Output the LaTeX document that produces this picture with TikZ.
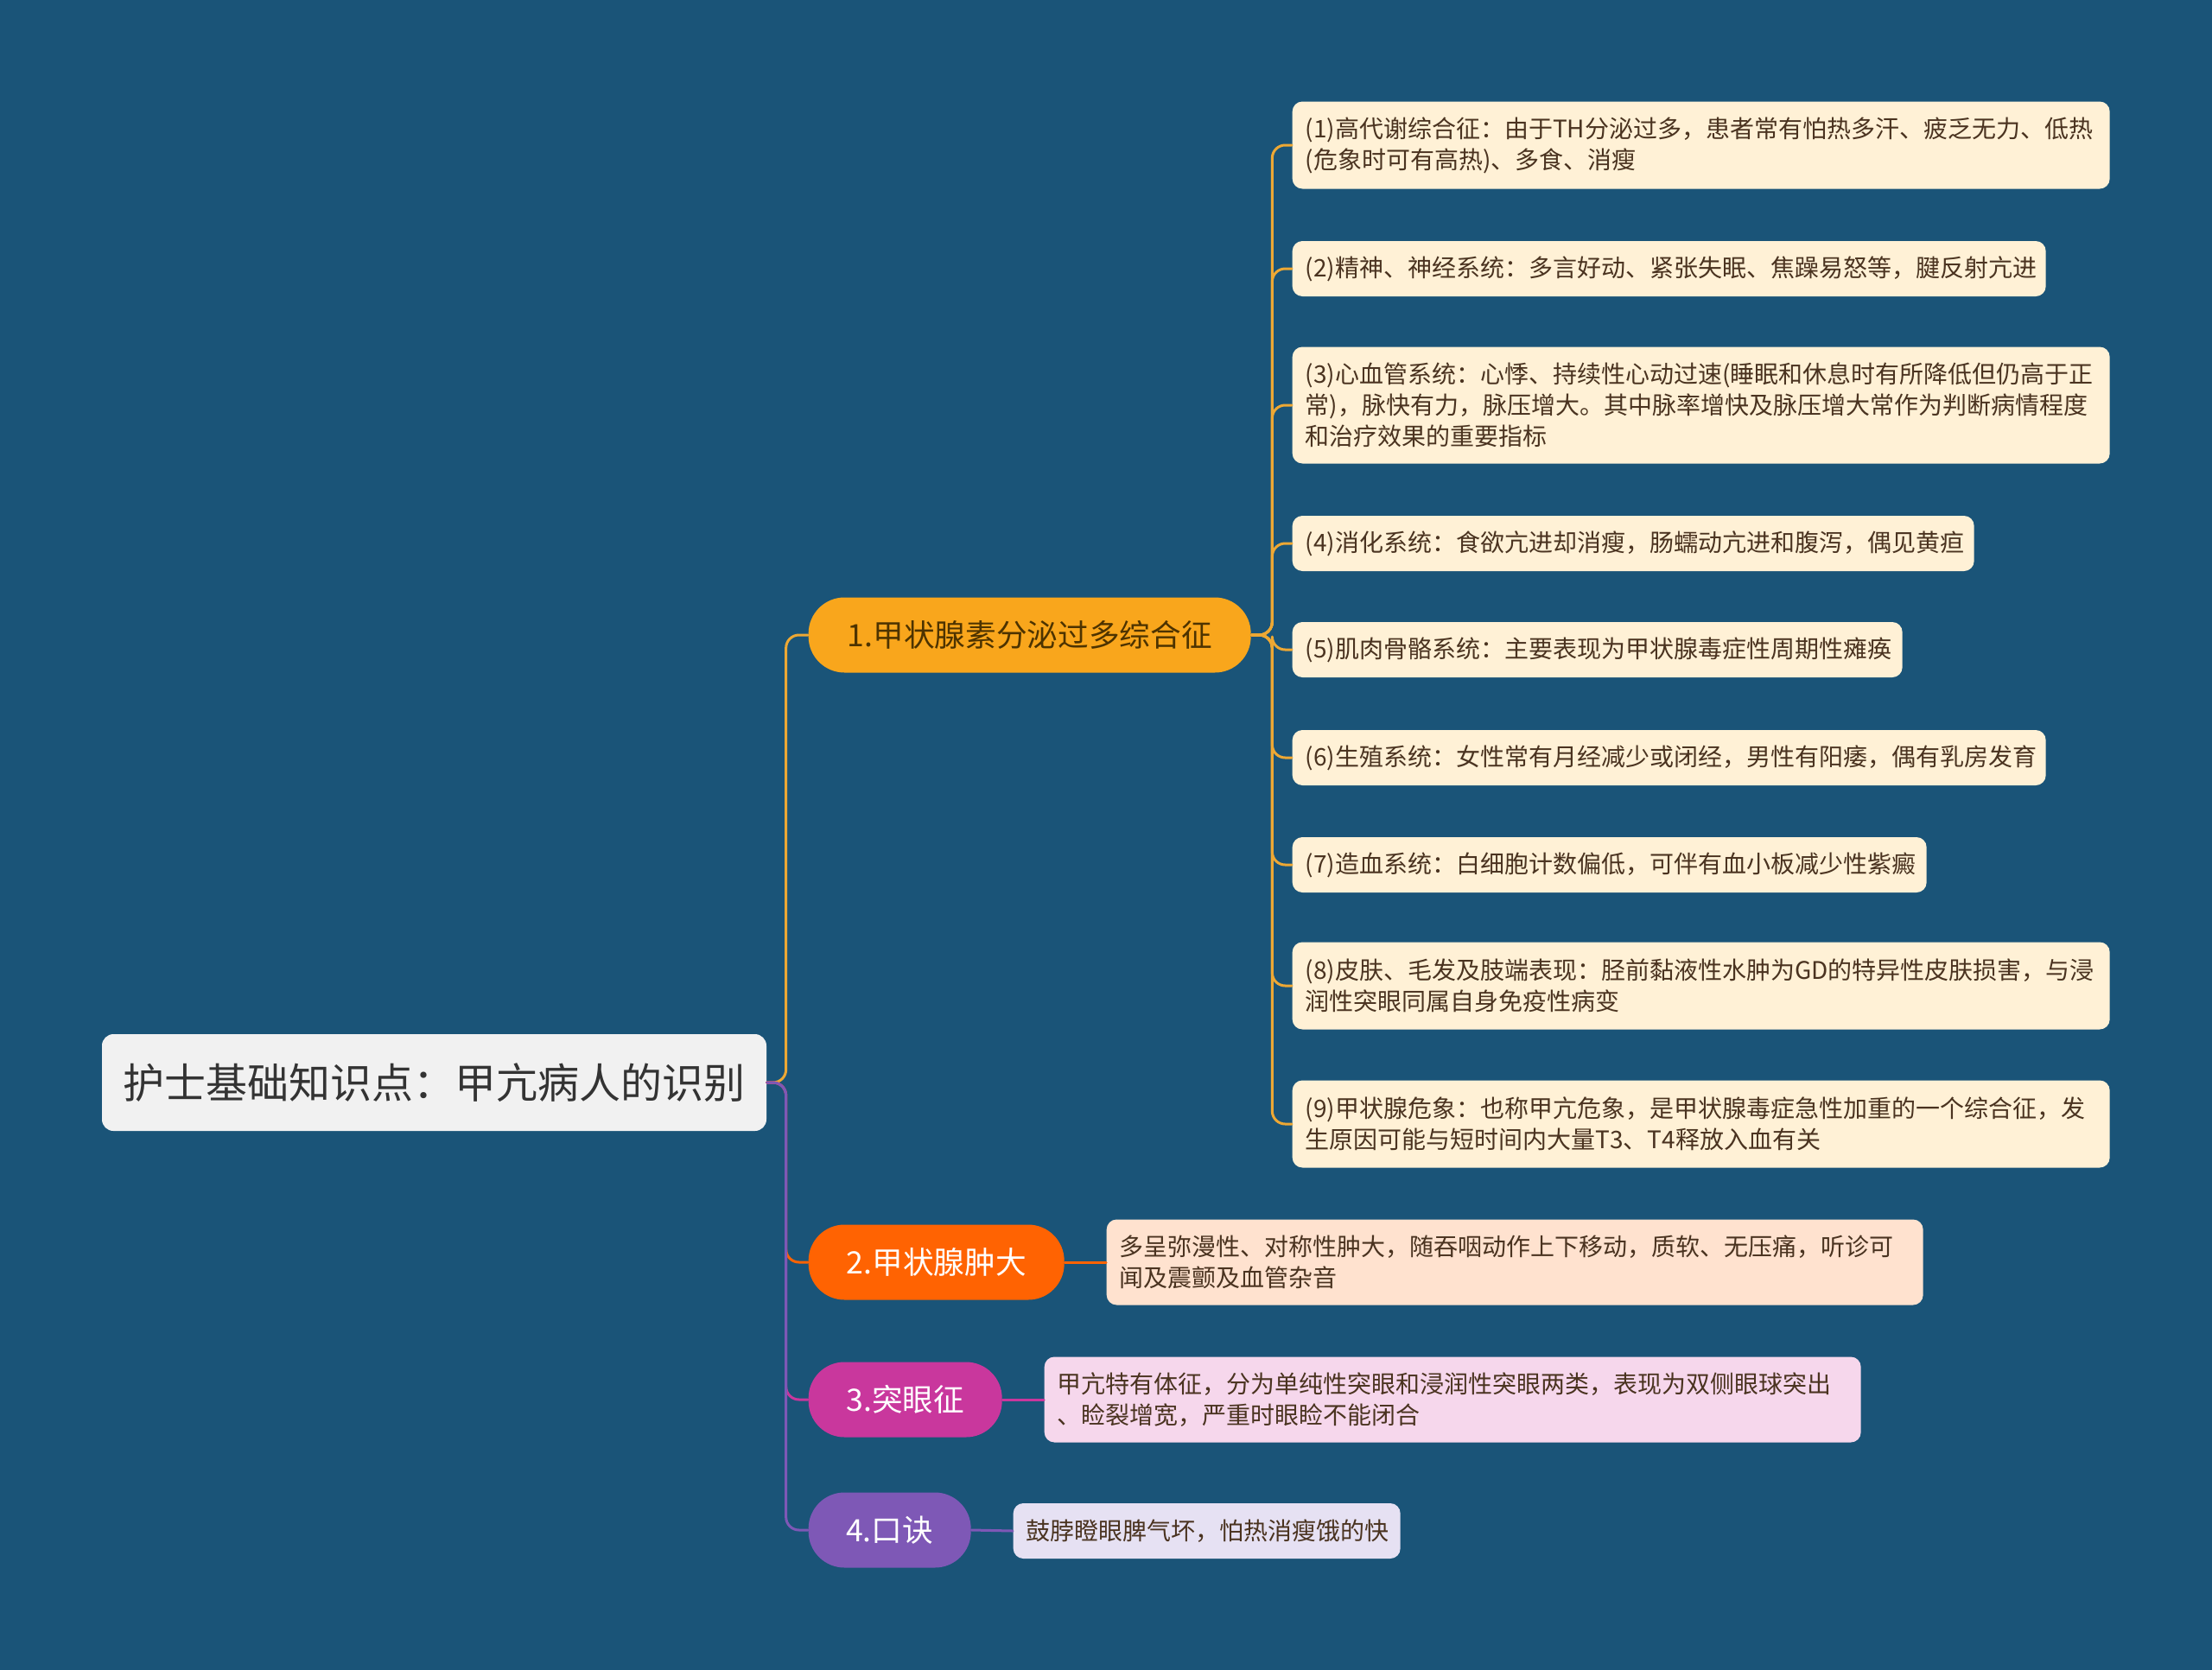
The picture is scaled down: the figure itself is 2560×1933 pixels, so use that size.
\documentclass[tikz,border=0pt]{standalone}
\usepackage{fontspec}
\setmainfont{Noto Sans CJK SC}
\definecolor{boardblue}{HTML}{1A5478}
\definecolor{rootgray}{HTML}{F1F1F1}
\definecolor{rootink}{HTML}{333333}
\definecolor{goldtopic}{HTML}{F9A61C}
\definecolor{goldline}{HTML}{EDA834}
\definecolor{goldink}{HTML}{4D3300}
\definecolor{orangetopic}{HTML}{FF6302}
\definecolor{magentatopic}{HTML}{C9379D}
\definecolor{violettopic}{HTML}{7E58B6}
\definecolor{creamleaf}{HTML}{FFF1D6}
\definecolor{peachleaf}{HTML}{FFE2CF}
\definecolor{pinkleaf}{HTML}{F6D7EC}
\definecolor{lilacleaf}{HTML}{E6E1F3}
\definecolor{leafink}{HTML}{4A3320}

\begin{document}
\begin{tikzpicture}[
    x=0.3pt, y=-0.3pt,
    line join=round,
    line cap=round,
    rootbox/.style={fill=rootgray, text=rootink, rounded corners=4pt,
        minimum width=230.7pt, minimum height=33.6pt,
        font=\fontsize{14.4}{17}\selectfont},
    topic/.style={anchor=west, rounded corners=12.5pt, minimum height=26.1pt,
        inner xsep=0pt, font=\fontsize{10.7}{12}\selectfont},
    leaf/.style={anchor=west, align=left, rounded corners=3.5pt,
        inner xsep=4.5pt, text=leafink, font=\fontsize{8.4}{10.8}\selectfont},
    link/.style={line width=0.9pt, rounded corners=4.5pt}
]

    % Background
    \fill[boardblue] (0,0) rectangle (2560,1933);

    % Root
    \node[rootbox] (root) at (502.5,1253) {护士基础知识点：甲亢病人的识别};

    % Main topics
    \node[topic, fill=goldtopic, text=goldink, minimum width=153.6pt] (b1) at (935,735) {1.甲状腺素分泌过多综合征};
    \node[topic, fill=orangetopic, text=white, minimum width=88.8pt] (b2) at (935,1461) {2.甲状腺肿大};
    \node[topic, fill=magentatopic, text=white, minimum width=67.2pt] (b3) at (935,1620) {3.突眼征};
    \node[topic, fill=violettopic, text=white, minimum width=56.4pt] (b4) at (935,1771) {4.口诀};

    % Symptoms of topic 1
    \node[leaf, fill=creamleaf, text width=274.8pt, minimum height=30.3pt] (s1) at (1495,168)
        {(1)高代谢综合征：由于TH分泌过多，患者常有怕热多汗、疲乏无力、低热\\(危象时可有高热)、多食、消瘦};
    \node[leaf, fill=creamleaf, text width=252.6pt, minimum height=19.2pt] (s2) at (1495,311)
        {(2)精神、神经系统：多言好动、紧张失眠、焦躁易怒等，腱反射亢进};
    \node[leaf, fill=creamleaf, text width=274.8pt, minimum height=40.5pt] (s3) at (1495,469)
        {(3)心血管系统：心悸、持续性心动过速(睡眠和休息时有所降低但仍高于正\\常)，脉快有力，脉压增大。其中脉率增快及脉压增大常作为判断病情程度\\和治疗效果的重要指标};
    \node[leaf, fill=creamleaf, text width=227.7pt, minimum height=19.2pt] (s4) at (1495,629)
        {(4)消化系统：食欲亢进却消瘦，肠蠕动亢进和腹泻，偶见黄疸};
    \node[leaf, fill=creamleaf, text width=202.8pt, minimum height=19.2pt] (s5) at (1495,752)
        {(5)肌肉骨骼系统：主要表现为甲状腺毒症性周期性瘫痪};
    \node[leaf, fill=creamleaf, text width=252.6pt, minimum height=19.2pt] (s6) at (1495,877)
        {(6)生殖系统：女性常有月经减少或闭经，男性有阳痿，偶有乳房发育};
    \node[leaf, fill=creamleaf, text width=211.2pt, minimum height=19.2pt] (s7) at (1495,1001)
        {(7)造血系统：白细胞计数偏低，可伴有血小板减少性紫癜};
    \node[leaf, fill=creamleaf, text width=274.8pt, minimum height=30.3pt] (s8) at (1495,1141)
        {(8)皮肤、毛发及肢端表现：胫前黏液性水肿为GD的特异性皮肤损害，与浸\\润性突眼同属自身免疫性病变};
    \node[leaf, fill=creamleaf, text width=274.8pt, minimum height=30.3pt] (s9) at (1495,1301)
        {(9)甲状腺危象：也称甲亢危象，是甲状腺毒症急性加重的一个综合征，发\\生原因可能与短时间内大量T3、T4释放入血有关};

    % Notes of topics 2-4
    \node[leaf, fill=peachleaf, text width=274.5pt, minimum height=29.7pt] (t2) at (1280,1461)
        {多呈弥漫性、对称性肿大，随吞咽动作上下移动，质软、无压痛，听诊可\\闻及震颤及血管杂音};
    \node[leaf, fill=pinkleaf, text width=274.5pt, minimum height=29.7pt] (t3) at (1208,1620)
        {甲亢特有体征，分为单纯性突眼和浸润性突眼两类，表现为双侧眼球突出\\、睑裂增宽，严重时眼睑不能闭合};
    \node[leaf, fill=lilacleaf, text width=125.4pt, minimum height=19.2pt] (t4) at (1172,1772)
        {鼓脖瞪眼脾气坏，怕热消瘦饿的快};

    % Connectors
    \foreach \n in {1,...,9} {
        \draw[link, goldline] (b1.east) -- ++(24,0) |- (s\n.west);
    }
    \draw[link, goldline] (root.east) -- ++(22,0) |- (b1.west);
    \draw[link, orangetopic] (root.east) -- ++(22,0) |- (b2.west);
    \draw[link, magentatopic] (root.east) -- ++(22,0) |- (b3.west);
    \draw[link, violettopic] (root.east) -- ++(22,0) |- (b4.west);
    \draw[link, orangetopic] (b2.east) -- (t2.west);
    \draw[link, magentatopic] (b3.east) -- (t3.west);
    \draw[link, violettopic] (b4.east) -- (t4.west);

\end{tikzpicture}
\end{document}
